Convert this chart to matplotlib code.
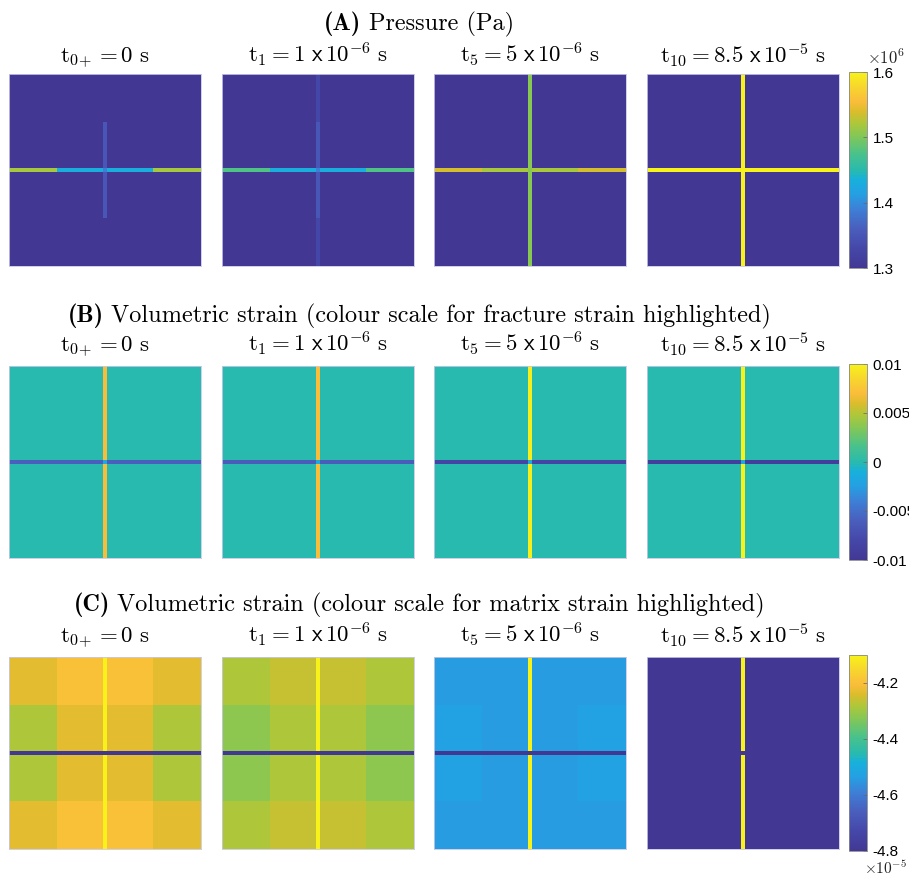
import numpy as np
import matplotlib.pyplot as plt
from matplotlib.colors import LinearSegmentedColormap

plt.rcParams['mathtext.fontset'] = 'cm'

# parula-like colormap, toned like the reference colour bar
cmap_pos = [0.00, 0.10, 0.20, 0.30, 0.38, 0.45, 0.50, 0.58, 0.68, 0.74, 0.80, 0.85, 0.92, 1.00]
cmap_rgb = [(0.26, 0.22, 0.58), (0.27, 0.28, 0.66), (0.29, 0.37, 0.74), (0.24, 0.50, 0.84),
            (0.14, 0.63, 0.89), (0.09, 0.69, 0.86), (0.16, 0.73, 0.68), (0.28, 0.76, 0.55),
            (0.53, 0.78, 0.33), (0.68, 0.78, 0.23), (0.86, 0.74, 0.17), (0.98, 0.74, 0.23),
            (0.97, 0.83, 0.18), (0.97, 0.95, 0.10)]
parula = LinearSegmentedColormap.from_list('parula_like', list(zip(cmap_pos, cmap_rgb)))

# Time labels
time_labels = [
    r'$\mathrm{t}_{0\!+} = 0\ \mathrm{s}$',
    r'$\mathrm{t}_{1} = 1\ \mathsf{x}\,\mathsf{10}^{\mathsf{-6}}\ \mathrm{s}$',
    r'$\mathrm{t}_{5} = 5\ \mathsf{x}\,\mathsf{10}^{\mathsf{-6}}\ \mathrm{s}$',
    r'$\mathrm{t}_{10} = 8.5\ \mathsf{x}\,\mathsf{10}^{\mathsf{-5}}\ \mathrm{s}$',
]

# Pressure (Pa): matrix value, horizontal fracture (left->right),
# vertical fracture (top->bottom), intersection
p_matrix = [1.30e6, 1.30e6, 1.30e6, 1.30e6]
p_hfrac = [[1.519e6, 1.432e6, 1.432e6, 1.519e6],
           [1.477e6, 1.432e6, 1.432e6, 1.477e6],
           [1.537e6, 1.52e6, 1.52e6, 1.537e6],
           [1.60e6, 1.60e6, 1.60e6, 1.60e6]]
p_vfrac = [[1.30e6, 1.351e6, 1.351e6, 1.30e6],
           [1.33e6, 1.351e6, 1.351e6, 1.33e6],
           [1.505e6, 1.505e6, 1.505e6, 1.505e6],
           [1.60e6, 1.60e6, 1.60e6, 1.60e6]]
p_cross = [1.39e6, 1.39e6, 1.505e6, 1.60e6]

# Volumetric strain: matrix 4x4 cells (rows top->bottom), fractures, intersection
s_matrix = [
    [[-4.233e-5, -4.198e-5, -4.198e-5, -4.233e-5],
     [-4.282e-5, -4.233e-5, -4.233e-5, -4.282e-5],
     [-4.282e-5, -4.233e-5, -4.233e-5, -4.282e-5],
     [-4.233e-5, -4.198e-5, -4.198e-5, -4.233e-5]],
    [[-4.282e-5, -4.261e-5, -4.261e-5, -4.282e-5],
     [-4.317e-5, -4.282e-5, -4.282e-5, -4.317e-5],
     [-4.317e-5, -4.282e-5, -4.282e-5, -4.317e-5],
     [-4.282e-5, -4.261e-5, -4.261e-5, -4.282e-5]],
    [[-4.541e-5, -4.541e-5, -4.541e-5, -4.541e-5],
     [-4.527e-5, -4.541e-5, -4.541e-5, -4.527e-5],
     [-4.527e-5, -4.541e-5, -4.541e-5, -4.527e-5],
     [-4.541e-5, -4.541e-5, -4.541e-5, -4.541e-5]],
    [[-4.80e-5] * 4, [-4.80e-5] * 4, [-4.80e-5] * 4, [-4.80e-5] * 4],
]
s_hfrac = [[-0.006] * 4, [-0.0062] * 4, [-0.0084] * 4, [-0.0092] * 4]
s_vfrac = [[0.007] * 4, [0.007] * 4, [0.0098] * 4, [0.01] * 4]
s_cross = [-0.0016, -0.0016, -0.0016, -0.0016]

title_tags = ['(A)', '(B)', '(C)']
title_texts = ['Pressure (Pa)',
               'Volumetric strain (colour scale for fracture strain highlighted)',
               'Volumetric strain (colour scale for matrix strain highlighted)']

clims = [(1.3e6, 1.6e6), (-0.01, 0.01), (-4.8e-5, -4.1e-5)]
cticks = [[1.3e6, 1.4e6, 1.5e6, 1.6e6],
          [-0.01, -0.005, 0, 0.005, 0.01],
          [-4.8e-5, -4.6e-5, -4.4e-5, -4.2e-5]]
ctick_labels = [['1.3', '1.4', '1.5', '1.6'],
                ['-0.01', '-0.005', '0', '0.005', '0.01'],
                ['-4.8', '-4.6', '-4.4', '-4.2']]


def build_field(matrix, hfrac, vfrac, cross):
    g = np.empty((5, 5))
    idx = [0, 1, 3, 4]
    g[np.ix_(idx, idx)] = np.asarray(matrix)
    g[2, idx] = hfrac
    g[idx, 2] = vfrac
    g[2, 2] = cross
    return g


fields = []
fields.append([build_field(np.full((4, 4), p_matrix[k]), p_hfrac[k], p_vfrac[k], p_cross[k])
               for k in range(4)])
strain = [build_field(s_matrix[k], s_hfrac[k], s_vfrac[k], s_cross[k]) for k in range(4)]
fields.append(strain)
fields.append(strain)

W, H = 909, 877
fig = plt.figure(figsize=(W / 100, H / 100), dpi=100)
renderer = fig.canvas.get_renderer()

hw = 0.011
edges = [0, 0.25, 0.5 - hw, 0.5 + hw, 0.75, 1]
panel_x = [9, 222, 434, 647]
row_top = [74, 366, 657]
title_base = [30, 322, 611]
sub_base = [63, 352, 643]
size = 192


def rect(x, y, w, h):
    return [x / W, 1 - (y + h) / H, w / W, h / H]


for r in range(3):
    vmin, vmax = clims[r]
    for k in range(4):
        ax = fig.add_axes(rect(panel_x[k], row_top[r], size, size))
        mesh = ax.pcolormesh(edges, edges, fields[r][k], cmap=parula,
                             vmin=vmin, vmax=vmax, shading='flat')
        ax.set_xlim(0, 1)
        ax.set_ylim(1, 0)
        ax.set_xticks([])
        ax.set_yticks([])
        for sp in ax.spines.values():
            sp.set_color('#c8c8e8')
            sp.set_linewidth(0.6)
        fig.text((panel_x[k] + size / 2) / W, 1 - sub_base[r] / H, time_labels[k],
                 ha='center', va='baseline', fontsize=16.5)

    # row title: bold tag + roman text, centred together
    tag = fig.text(0, 1 - title_base[r] / H, title_tags[r], fontfamily='cmb10',
                   fontsize=17.5, va='baseline')
    body = fig.text(0, 1 - title_base[r] / H, title_texts[r], fontfamily='cmr10',
                    fontsize=17.5, va='baseline')
    w_tag = tag.get_window_extent(renderer).width
    w_body = body.get_window_extent(renderer).width
    gap = 7
    x0 = 419 - (w_tag + gap + w_body) / 2
    tag.set_x(x0 / W)
    body.set_x((x0 + w_tag + gap) / W)

    cax = fig.add_axes(rect(849, row_top[r] - 2, 18, size + 4))
    cb = fig.colorbar(mesh, cax=cax)
    cb.set_ticks(cticks[r])
    cb.set_ticklabels(ctick_labels[r])
    cb.outline.set_edgecolor('#888888')
    cb.outline.set_linewidth(0.6)
    cax.tick_params(direction='in', length=3, width=0.5, color='#666666', pad=4,
                    labelsize=11)
    for lab in cax.get_yticklabels():
        lab.set_fontfamily('Liberation Sans')

fig.text(867 / W, 1 - 64 / H, r'$\mathsf{\times10^{6}}$', fontsize=12, color='#222222',
         ha='left', va='baseline')
fig.text(907 / W, 1 - 874 / H, r'$\mathsf{\times10^{-5}}$', fontsize=11, color='#222222',
         ha='right', va='baseline')

fig.savefig('out.png', dpi=100)
